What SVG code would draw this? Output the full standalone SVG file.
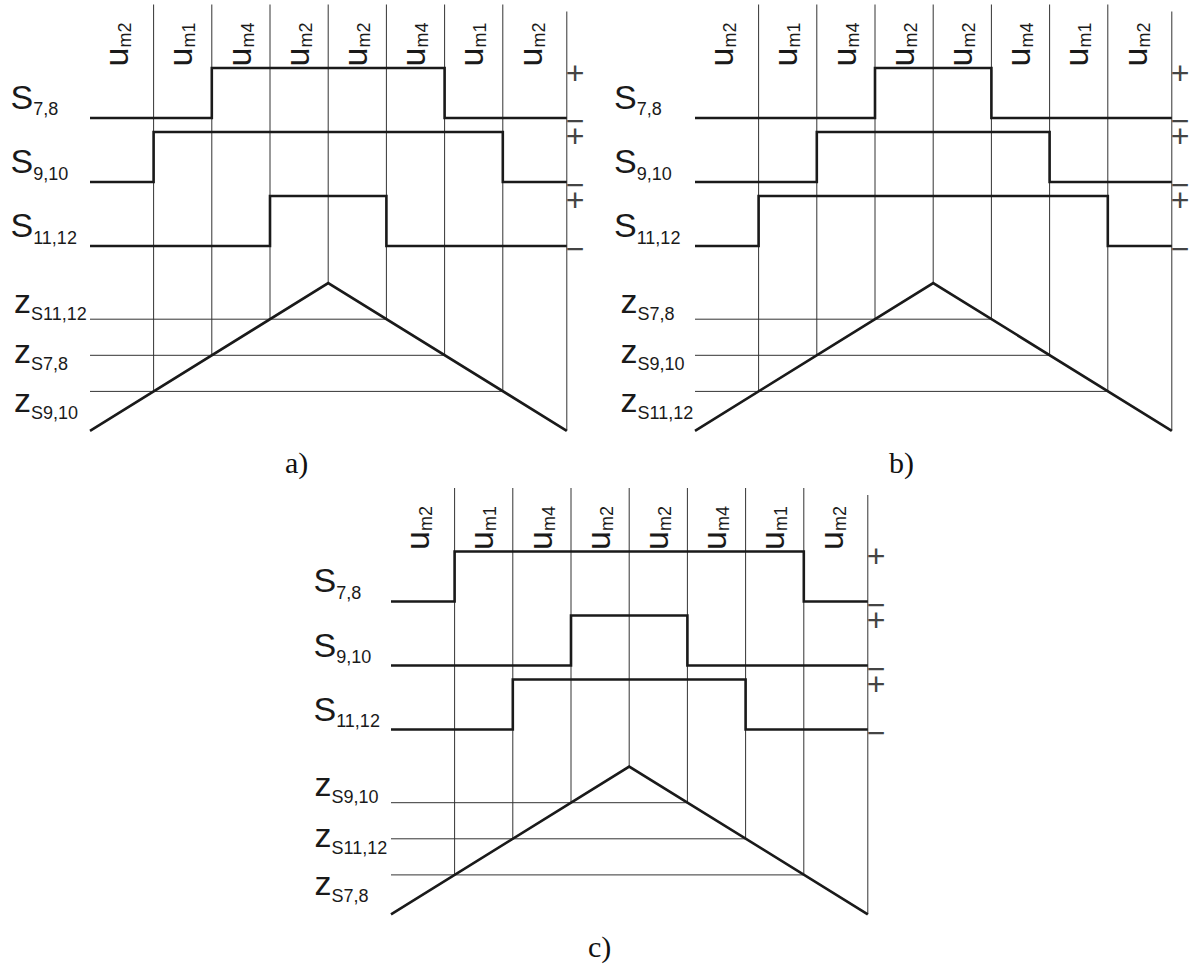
<svg xmlns="http://www.w3.org/2000/svg" xmlns:xlink="http://www.w3.org/1999/xlink" width="1200" height="969" viewBox="0 0 1200 969">
<style>
.grid{fill:none;stroke:#333;stroke-width:1}
.sig{fill:none;stroke:#1a1a1a;stroke-width:2.6;stroke-linejoin:miter}
.big{font-family:"Liberation Sans",Arial,sans-serif;font-size:34px;fill:#1a1a1a}
.sub{font-size:18px}
.pm{font-family:"Liberation Sans",Arial,sans-serif;font-size:32px;fill:#444;text-anchor:middle}
.cap{font-family:"Liberation Serif","Times New Roman",serif;font-size:30px;fill:#111}
</style>
<defs>
<g id="grid">
<path class="grid" d="M153.6,4.5V391.4M211.8,4.5V355.3M270,4.5V319.2M328.2,4.5V283.1M386.4,4.5V319.2M444.6,4.5V355.3M502.8,4.5V391.4M566.8,11.5V430.8M90,319.2H386.4M90,355.3H444.6M90,391.4H502.8"/>
<path class="sig" d="M90,430.8L328.2,283.1L566.8,430.8"/>
</g>
</defs>

<g id="panel-a">
<use xlink:href="#grid"/>
<g id="a-signals">
<path class="sig" d="M90,118H211.8V68H444.6V118H566.8"/>
<path class="sig" d="M90,182H153.6V132H502.8V182H566.8"/>
<path class="sig" d="M90,246H270V196H386.4V246H566.8"/>
</g>
<g id="a-labels">
<text class="big" transform="translate(128,66.5) rotate(-90)">u<tspan class="sub" dy="3">m2</tspan></text>
<text class="big" transform="translate(192.3,66.5) rotate(-90)">u<tspan class="sub" dy="3">m1</tspan></text>
<text class="big" transform="translate(250.5,66.5) rotate(-90)">u<tspan class="sub" dy="3">m4</tspan></text>
<text class="big" transform="translate(308.7,66.5) rotate(-90)">u<tspan class="sub" dy="3">m2</tspan></text>
<text class="big" transform="translate(366.9,66.5) rotate(-90)">u<tspan class="sub" dy="3">m2</tspan></text>
<text class="big" transform="translate(425.1,66.5) rotate(-90)">u<tspan class="sub" dy="3">m4</tspan></text>
<text class="big" transform="translate(483.3,66.5) rotate(-90)">u<tspan class="sub" dy="3">m1</tspan></text>
<text class="big" transform="translate(542.3,66.5) rotate(-90)">u<tspan class="sub" dy="3">m2</tspan></text>
<text class="big" x="10.5" y="108.5">S<tspan class="sub" dy="6.5">7,8</tspan></text>
<text class="big" x="10.5" y="173">S<tspan class="sub" dy="6.5">9,10</tspan></text>
<text class="big" x="10.5" y="237">S<tspan class="sub" dy="6.5">11,12</tspan></text>
<text class="big" x="14" y="312.7">z<tspan class="sub" dy="7">S11,12</tspan></text>
<text class="big" x="14" y="363">z<tspan class="sub" dy="7">S7,8</tspan></text>
<text class="big" x="14" y="411.7">z<tspan class="sub" dy="7">S9,10</tspan></text>
<text class="pm"><tspan x="575" y="83.9">+</tspan><tspan x="575" y="132.1">−</tspan><tspan x="575" y="147.4">+</tspan><tspan x="575" y="196.4">−</tspan><tspan x="575" y="211.4">+</tspan><tspan x="575" y="260.4">−</tspan></text>
<text class="cap" x="285" y="473">a)</text>
</g>
</g>

<g id="panel-b" transform="translate(605,0)">
<use xlink:href="#grid"/>
<g id="b-signals">
<path class="sig" d="M90,118H270V68H386.4V118H566.8"/>
<path class="sig" d="M90,182H211.8V132H444.6V182H566.8"/>
<path class="sig" d="M90,246H153.6V196H502.8V246H566.8"/>
</g>
<g id="b-labels">
<text class="big" transform="translate(128,66.5) rotate(-90)">u<tspan class="sub" dy="3">m2</tspan></text>
<text class="big" transform="translate(192.3,66.5) rotate(-90)">u<tspan class="sub" dy="3">m1</tspan></text>
<text class="big" transform="translate(250.5,66.5) rotate(-90)">u<tspan class="sub" dy="3">m4</tspan></text>
<text class="big" transform="translate(308.7,66.5) rotate(-90)">u<tspan class="sub" dy="3">m2</tspan></text>
<text class="big" transform="translate(366.9,66.5) rotate(-90)">u<tspan class="sub" dy="3">m2</tspan></text>
<text class="big" transform="translate(425.1,66.5) rotate(-90)">u<tspan class="sub" dy="3">m4</tspan></text>
<text class="big" transform="translate(483.3,66.5) rotate(-90)">u<tspan class="sub" dy="3">m1</tspan></text>
<text class="big" transform="translate(542.3,66.5) rotate(-90)">u<tspan class="sub" dy="3">m2</tspan></text>
<text class="big" x="9" y="108.5">S<tspan class="sub" dy="6.5">7,8</tspan></text>
<text class="big" x="9" y="173">S<tspan class="sub" dy="6.5">9,10</tspan></text>
<text class="big" x="9" y="237">S<tspan class="sub" dy="6.5">11,12</tspan></text>
<text class="big" x="15.5" y="312.7">z<tspan class="sub" dy="7">S7,8</tspan></text>
<text class="big" x="15.5" y="363">z<tspan class="sub" dy="7">S9,10</tspan></text>
<text class="big" x="15.5" y="411.7">z<tspan class="sub" dy="7">S11,12</tspan></text>
<text class="pm"><tspan x="575" y="83.9">+</tspan><tspan x="575" y="132.1">−</tspan><tspan x="575" y="147.4">+</tspan><tspan x="575" y="196.4">−</tspan><tspan x="575" y="211.4">+</tspan><tspan x="575" y="260.4">−</tspan></text>
<text class="cap" x="284" y="473">b)</text>
</g>
</g>

<g id="panel-c" transform="translate(301,483.5)">
<use xlink:href="#grid"/>
<g id="c-signals">
<path class="sig" d="M90,118H153.6V68H502.8V118H566.8"/>
<path class="sig" d="M90,182H270V132H386.4V182H566.8"/>
<path class="sig" d="M90,246H211.8V196H444.6V246H566.8"/>
</g>
<g id="c-labels">
<text class="big" transform="translate(128,66.5) rotate(-90)">u<tspan class="sub" dy="3">m2</tspan></text>
<text class="big" transform="translate(192.3,66.5) rotate(-90)">u<tspan class="sub" dy="3">m1</tspan></text>
<text class="big" transform="translate(250.5,66.5) rotate(-90)">u<tspan class="sub" dy="3">m4</tspan></text>
<text class="big" transform="translate(308.7,66.5) rotate(-90)">u<tspan class="sub" dy="3">m2</tspan></text>
<text class="big" transform="translate(366.9,66.5) rotate(-90)">u<tspan class="sub" dy="3">m2</tspan></text>
<text class="big" transform="translate(425.1,66.5) rotate(-90)">u<tspan class="sub" dy="3">m4</tspan></text>
<text class="big" transform="translate(483.3,66.5) rotate(-90)">u<tspan class="sub" dy="3">m1</tspan></text>
<text class="big" transform="translate(542.3,66.5) rotate(-90)">u<tspan class="sub" dy="3">m2</tspan></text>
<text class="big" x="12.5" y="108.5">S<tspan class="sub" dy="6.5">7,8</tspan></text>
<text class="big" x="12.5" y="173">S<tspan class="sub" dy="6.5">9,10</tspan></text>
<text class="big" x="12.5" y="237">S<tspan class="sub" dy="6.5">11,12</tspan></text>
<text class="big" x="13.5" y="312.7">z<tspan class="sub" dy="7">S9,10</tspan></text>
<text class="big" x="13.5" y="363">z<tspan class="sub" dy="7">S11,12</tspan></text>
<text class="big" x="13.5" y="411.7">z<tspan class="sub" dy="7">S7,8</tspan></text>
<text class="pm"><tspan x="575" y="83.9">+</tspan><tspan x="575" y="132.1">−</tspan><tspan x="575" y="147.4">+</tspan><tspan x="575" y="196.4">−</tspan><tspan x="575" y="211.4">+</tspan><tspan x="575" y="260.4">−</tspan></text>
<text class="cap" x="287" y="473">c)</text>
</g>
</g>
</svg>
